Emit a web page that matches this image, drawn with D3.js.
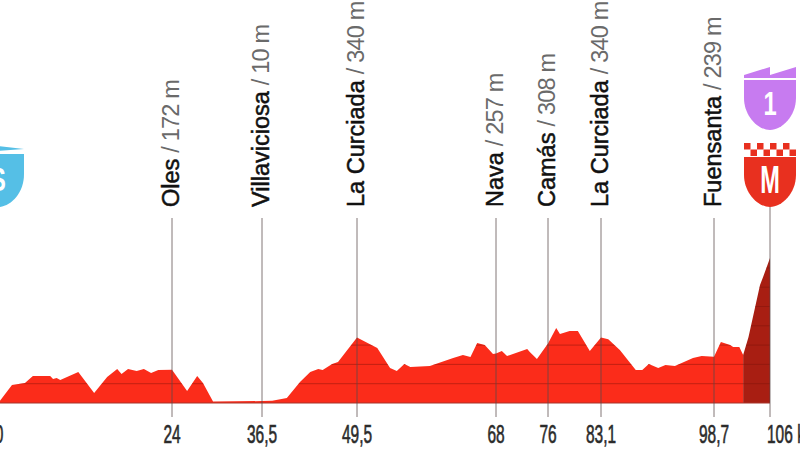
<!DOCTYPE html>
<html lang="es">
<head>
<meta charset="UTF-8">
<title>Perfil de etapa</title>
<script src="https://d3js.org/d3.v7.min.js"></script>
<style>
    html, body { margin: 0; background: #fff; overflow: hidden; }
    svg { display: block; }
</style>
</head>
<body>
<div id="chart"></div>
<script>
    // kilometre ticks and the places that sit on them
    let tickKm = [0, 24, 36.5, 49.5, 68, 76, 83.1, 98.7, 106],
        tickLabels = ['0', '24', '36,5', '49,5', '68', '76', '83,1', '98,7', '106 km'],
        placeKm = [24, 36.5, 49.5, 68, 76, 83.1, 98.7],
        placeNames = ['Oles', 'Villaviciosa', 'La Curciada', 'Nava', 'Camás', 'La Curciada', 'Fuensanta'],
        placeHeights = ['172 m', '10 m', '340 m', '257 m', '308 m', '340 m', '239 m'],
        gridHeights = [100, 200, 300, 400, 500, 600, 700],
        climbStart = 102.5;

    // profile
    let profileKm = [0, 1.8, 3.6, 4.7, 7.1, 7.5, 8, 8.5, 11, 13.2, 15, 16.4, 17, 17.9, 19.1, 20.1, 21.1, 22.1, 24,
            26.1, 27.5, 28.3, 29.7, 36.5, 37.9, 39.9, 41.7, 43.1, 44.2, 44.8, 46.1, 46.9, 49.5,
            52.2, 53.9, 54.8, 55.8, 56.6, 59.2, 62.3, 63.6, 64.6, 65.5, 66.5, 67.6, 68, 68.9, 69.7, 72.8, 73.2, 74.3, 76,
            77.1, 77.6, 78.9, 80, 81.6, 83.1, 84.1, 85.7, 87.9, 88.8, 89.7, 91, 92, 93.3, 95.8, 97, 98.7,
            99.6, 100.8, 101.2, 102, 102.5, 103.2, 104.7, 105.1, 106],
        profileM = [5, 93, 104, 140, 140, 124, 130, 119, 161, 52, 135, 176, 150, 176, 166, 176, 155, 171, 172,
            62, 140, 104, 8, 10, 12, 26, 109, 160, 176, 171, 202, 212, 340,
            285, 181, 166, 202, 187, 192, 233, 249, 238, 311, 300, 254, 257, 269, 243, 280, 264, 228, 308,
            389, 357, 373, 373, 269, 340, 330, 275, 171, 171, 202, 181, 197, 192, 233, 243, 239,
            316, 300, 290, 290, 249, 342, 611, 653, 751];

    let width = 800, height = 450,
        profile = profileKm.map((km, i) => ({km: km, m: profileM[i]}));

    // the drawing is not quite to scale along the road, so x goes through the stations
    let x = d3.scaleLinear().domain(tickKm).range([-1, 172, 262, 357, 496, 548, 601, 714, 770]),
        y = d3.scaleLinear().domain([0, 100]).range([403, 383.7]);

    let svg = d3.select('#chart').append('svg').attr('width', width).attr('height', height);

    let area = d3.area().x(d => x(d.km)).y0(y(0)).y1(d => y(d.m));

    svg.append('defs').append('clipPath').attr('id', 'profileClip')
        .append('path').attr('d', area(profile));

    svg.append('path').attr('fill', '#fb2c1a').attr('d', area(profile.filter(d => d.km <= climbStart)));
    svg.append('path').attr('fill', '#a81e12').attr('d', area(profile.filter(d => d.km >= climbStart)));

    // height lines only show inside the profile
    svg.append('g').attr('clip-path', 'url(#profileClip)')
        .selectAll('line').data(gridHeights).enter().append('line')
        .attr('x1', 0).attr('x2', width)
        .attr('y1', d => y(d)).attr('y2', d => y(d))
        .attr('stroke', '#7a120a').attr('stroke-opacity', 0.55).attr('stroke-width', 0.8);

    svg.append('line')
        .attr('x1', x(0)).attr('x2', x(106)).attr('y1', y(0)).attr('y2', y(0))
        .attr('stroke', '#a5352a').attr('stroke-width', 1.2);

    // station lines
    svg.append('g').selectAll('line').data(placeKm).enter().append('line')
        .attr('x1', d => x(d)).attr('x2', d => x(d))
        .attr('y1', 218).attr('y2', 417)
        .attr('stroke', '#5a4a4a').attr('stroke-opacity', 0.75).attr('stroke-width', 1);
    svg.append('line')
        .attr('x1', x(106)).attr('x2', x(106)).attr('y1', 206).attr('y2', 417)
        .attr('stroke', '#5a4a4a').attr('stroke-opacity', 0.75).attr('stroke-width', 1);

    // place names
    let labels = svg.append('g').selectAll('text').data(placeKm).enter().append('text')
        .attr('transform', d => 'translate(' + (x(d) + 6.5) + ',207) rotate(-90)')
        .style('font-family', '"Liberation Sans", Arial, sans-serif')
        .style('font-size', '23.5px');
    labels.append('tspan')
        .attr('fill', '#111').attr('stroke', '#111').attr('stroke-width', 0.5)
        .text((d, i) => placeNames[i]);
    labels.append('tspan')
        .attr('fill', '#6a6a6a').attr('dx', 6)
        .style('letter-spacing', '-0.8px')
        .text((d, i) => '/ ' + placeHeights[i]);

    // km ticks, squeezed to look like the condensed face of the original
    svg.append('g').selectAll('text').data(tickKm).enter().append('text')
        .attr('transform', d => 'translate(' + (d == 106 ? 767 : x(d)) + ',443) scale(0.62,1)')
        .attr('text-anchor', d => d == 106 ? 'start' : 'middle')
        .attr('fill', '#2b2b2b').attr('stroke', '#2b2b2b').attr('stroke-width', 0.6)
        .style('font-family', '"Liberation Sans", Arial, sans-serif')
        .style('font-size', '25px')
        .text((d, i) => tickLabels[i]);

    // shields
    let shieldBody = 'M-26,0 H26 V18 C26,36 12,50 0,50 C-12,50 -26,36 -26,18 Z';

    function shieldLetter(g, letter, top) {
        g.append('text')
            .attr('transform', 'translate(0,' + top + ') scale(0.72,1)')
            .attr('text-anchor', 'middle').attr('fill', '#fff')
            .style('font-family', '"Liberation Sans", Arial, sans-serif')
            .style('font-weight', 'bold').style('font-size', '33px')
            .text(letter);
    }

    // sprint shield, mostly off the left edge
    let sprint = svg.append('g').attr('transform', 'translate(-2,146)');
    sprint.append('path').attr('fill', '#55bfe6').attr('d', 'M-26,3 L0,0 L26,3 L0,5 Z');
    sprint.append('path').attr('fill', '#55bfe6').attr('transform', 'translate(0,8)')
        .attr('d', 'M-26,0 H26 V20 C26,40 12,53 0,53 C-12,53 -26,40 -26,20 Z');
    shieldLetter(sprint, 'S', 45);

    // climb shield over the finish
    let climb = svg.append('g').attr('transform', 'translate(770,67)');
    climb.append('path').attr('fill', '#c77bf0').attr('d', 'M-26,8 L0,0 V8 L26,0 V11 H-26 Z');
    climb.append('path').attr('fill', '#c77bf0').attr('transform', 'translate(0,13)').attr('d', shieldBody);
    shieldLetter(climb, '1', 48);

    let red = '#e8301f',
        finish = svg.append('g').attr('transform', 'translate(770,143)');
    finish.append('path').attr('fill', red).attr('transform', 'translate(0,14)').attr('d', shieldBody);
    // two rows of checks on top of the finish shield
    d3.range(16).forEach(i => {
        let row = i < 8 ? 0 : 1, col = i % 8;
        if ((row + col) % 2 == 0) {
            finish.append('rect').attr('fill', red)
                .attr('x', -26 + col * 6.5).attr('y', row * 6.5)
                .attr('width', 6.5).attr('height', 6.5);
        }
    });
    finish.append('text')
        .attr('transform', 'translate(0,50) scale(0.62,1)')
        .attr('text-anchor', 'middle').attr('fill', '#fff')
        .style('font-family', '"Liberation Sans", Arial, sans-serif')
        .style('font-weight', 'bold').style('font-size', '38px')
        .text('M');
</script>
</body>
</html>
